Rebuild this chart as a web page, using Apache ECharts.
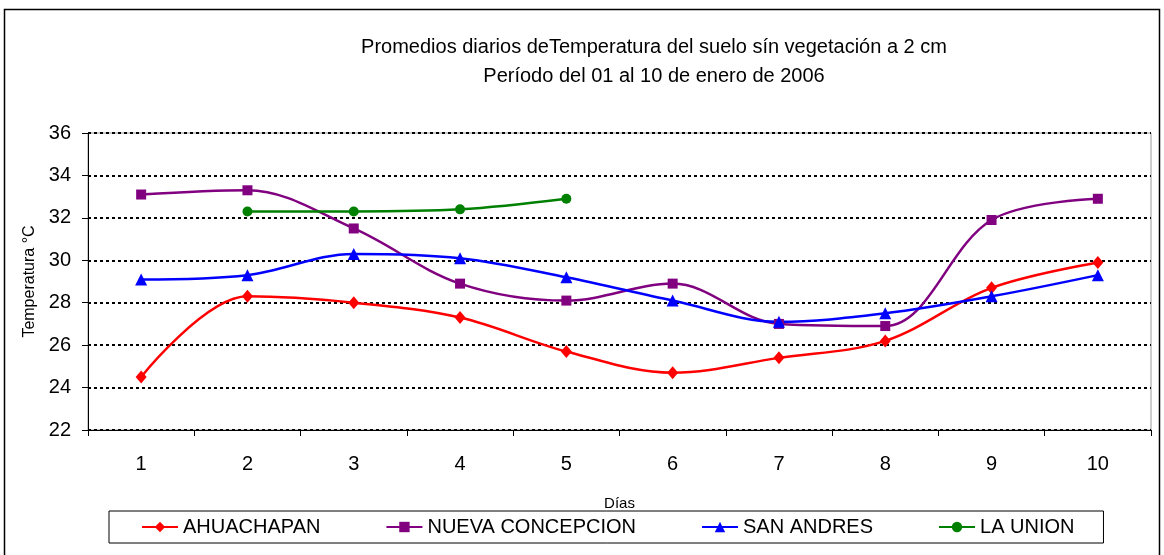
<!DOCTYPE html>
<html>
<head>
<meta charset="utf-8">
<script src="https://cdn.jsdelivr.net/npm/echarts@6/dist/echarts.min.js"></script>
<style>
  html, body { margin: 0; padding: 0; background: #fff; }
  #chart { width: 1164px; height: 555px; }
</style>
</head>
<body>
<div id="chart"></div>
<script>
// Promedios diarios, temperatura del suelo a 2 cm (enero 2006)
const dias = ['1', '2', '3', '4', '5', '6', '7', '8', '9', '10'];
const ahuachapan = [24.5, 28.3, 28.0, 27.3, 25.7, 24.7, 25.4, 26.2, 28.7, 29.9];
const nuevaConcepcion = [33.1, 33.3, 31.5, 28.9, 28.1, 28.9, 27.0, 26.9, 31.9, 32.9];
const sanAndres = [29.1, 29.3, 30.3, 30.1, 29.2, 28.1, 27.1, 27.5, 28.3, 29.3];
const laUnion = [null, 32.3, 32.3, 32.4, 32.9, null, null, null, null, null];
const yTicks = { min: 22, max: 36, step: 2 };

const font = "'Liberation Sans', Arial, sans-serif";

const chart = echarts.init(document.getElementById('chart'));

function serie(name, data, color, symbol, size) {
  return {
    name: name,
    type: 'line',
    data: data,
    smooth: 0.35,
    symbol: symbol,
    symbolSize: size,
    showAllSymbol: true,
    connectNulls: false,
    lineStyle: { color: color, width: 2.5 },
    itemStyle: { color: color },
    emphasis: { disabled: true }
  };
}

chart.setOption({
  animation: false,
  backgroundColor: '#fff',
  textStyle: { fontFamily: font },
  title: {
    text: 'Promedios diarios deTemperatura del suelo sín vegetación a 2 cm\nPeríodo del 01 al 10 de enero de 2006',
    left: 649,
    top: 28,
    textAlign: 'center',
    textStyle: {
      fontFamily: font,
      fontSize: 20,
      fontWeight: 'normal',
      color: '#000',
      lineHeight: 29
    }
  },
  graphic: [
    {
      type: 'rect',
      shape: { x: 4.5, y: 9.5, width: 1155, height: 560 },
      style: { fill: null, stroke: '#000', lineWidth: 1.5 },
      silent: true
    }
  ],
  grid: {
    left: 88,
    right: 13,
    top: 133,
    bottom: 125,
    show: true,
    borderColor: '#999',
    borderWidth: 1
  },
  legend: {
    left: 109,
    top: 511,
    orient: 'horizontal',
    padding: [6, 29, 6, 32],
    itemGap: 65,
    itemWidth: 36,
    itemHeight: 13,
    borderColor: '#000',
    borderWidth: 1,
    textStyle: { fontFamily: font, fontSize: 20, color: '#000' },
    data: ['AHUACHAPAN', 'NUEVA CONCEPCION', 'SAN ANDRES', 'LA UNION']
  },
  xAxis: {
    type: 'category',
    data: dias,
    boundaryGap: true,
    name: 'Días',
    nameLocation: 'middle',
    nameGap: 66,
    nameTextStyle: { fontFamily: font, fontSize: 15, color: '#000' },
    axisLine: { lineStyle: { color: '#000', width: 1 } },
    axisTick: { show: true, length: 6, lineStyle: { color: '#000' } },
    axisLabel: { color: '#000', fontSize: 20, margin: 24, fontFamily: font },
    splitLine: { show: false }
  },
  yAxis: {
    type: 'value',
    min: yTicks.min,
    max: yTicks.max,
    interval: yTicks.step,
    name: 'Temperatura °C',
    nameLocation: 'middle',
    nameGap: 49,
    nameTextStyle: { fontFamily: font, fontSize: 16, color: '#000' },
    axisLine: { show: true, lineStyle: { color: '#000', width: 1 } },
    axisTick: { show: true, length: 6, lineStyle: { color: '#000' } },
    axisLabel: { color: '#000', fontSize: 20, margin: 17, fontFamily: font },
    splitLine: { show: true, lineStyle: { color: '#000', width: 2, type: [3, 3] } }
  },
  series: [
    serie('AHUACHAPAN', ahuachapan, '#ff0000', 'diamond', [11, 13]),
    serie('NUEVA CONCEPCION', nuevaConcepcion, '#800080', 'rect', 10),
    serie('SAN ANDRES', sanAndres, '#0000ff', 'triangle', 12),
    serie('LA UNION', laUnion, '#008000', 'circle', 10)
  ]
});
</script>
</body>
</html>
